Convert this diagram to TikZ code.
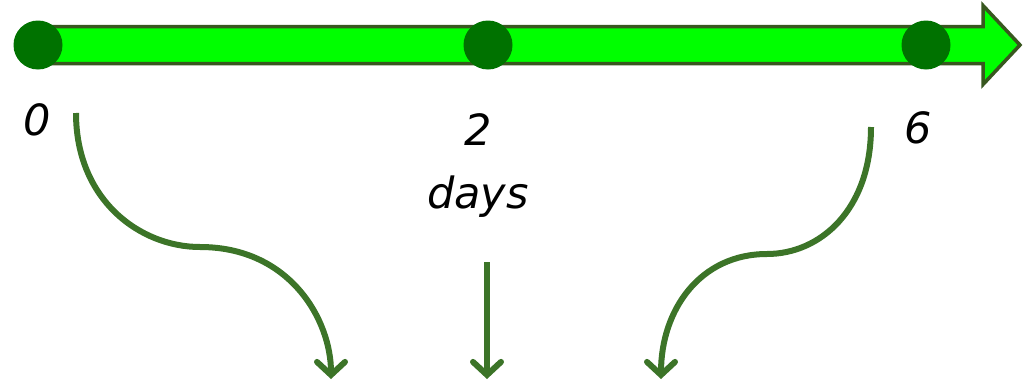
\documentclass[tikz,border=0pt]{standalone}
\usepackage{fontspec}
\setmainfont{DejaVu Sans}
\usetikzlibrary{arrows.meta}
\definecolor{barfill}{HTML}{00FF00}
\definecolor{barline}{HTML}{38571F}
\definecolor{dotgreen}{HTML}{007200}
\definecolor{arrowgreen}{HTML}{3C7428}
\begin{document}
\begin{tikzpicture}[x=1pt,y=-1pt,
  dot/.style={circle,fill=dotgreen,inner sep=0pt,minimum size=49pt},
  lbl/.style={anchor=base,inner sep=0pt,font=\fontsize{43}{50}\selectfont\itshape},
  flow/.style={draw=arrowgreen,line width=6pt,-{Straight Barb[length=13pt,width=28pt,line cap=round]}}]
  \useasboundingbox (0,0) rectangle (1025,383);
  % time axis drawn as a block arrow
  \draw[fill=barfill,draw=barline,line width=3.5pt,line join=miter]
    (40,26.5) -- (983,26.5) -- (983,5.5) -- (1020,45) -- (983,84.5)
    -- (983,63.5) -- (40,63.5) -- cycle;
  % points on the axis
  \node[dot] (t0) at (38,45) {};
  \node[dot] (t2) at (488,45) {};
  \node[dot] (t6) at (926,45) {};
  % labels
  \node[lbl] (l0) at (37,135) {0};
  \node[lbl] (l2) at (478,145) {2};
  \node[lbl] (ld) at (478,208) {days};
  \node[lbl] (l6) at (918,143) {6};
  % arrow ends
  \coordinate (a0) at (76,113);
  \coordinate (b0) at (331,379);
  \coordinate (a2) at (487,262);
  \coordinate (b2) at (487,379);
  \coordinate (a6) at (871,127);
  \coordinate (b6) at (661,379);
  % connectors
  \draw[flow] (a0) .. controls (76,200) and (140,247) .. (200,247)
    .. controls (290,247) and (331,320) .. (b0);
  \draw[flow] (a2) -- (b2);
  \draw[flow] (a6) .. controls (871,210) and (820,254) .. (767,254)
    .. controls (700,254) and (661,310) .. (b6);
\end{tikzpicture}
\end{document}
